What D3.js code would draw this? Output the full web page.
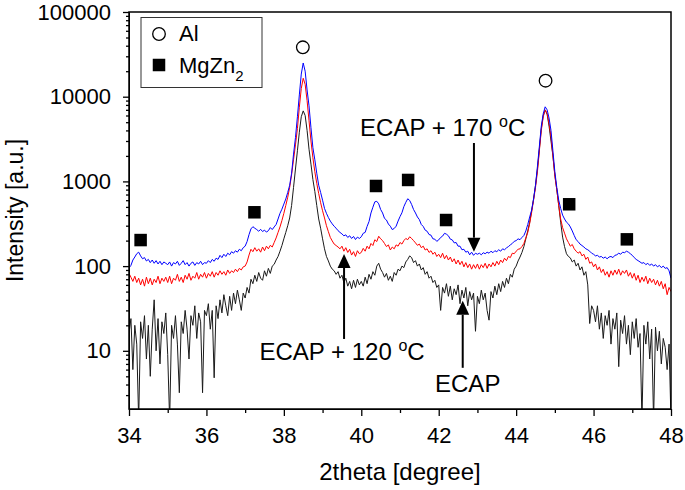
<!DOCTYPE html>
<html>
<head>
<meta charset="utf-8">
<script src="https://cdn.jsdelivr.net/npm/d3@7"></script>
<style>
  body { margin: 0; background: #fff; }
  text { font-family: "Liberation Sans", Arial, sans-serif; fill: #000; }
</style>
</head>
<body>
<script>
// scan grid: 34.00 .. 48.00 deg, 0.05 deg step
var angleStart = 34, angleStep = 0.05;

// ECAP (black)
var ecap = [
  16,24,6,20,12,1.5,22,14,26,8,20,5,18,40,10,24,7,22,16,28,
  9,1.5,20,14,26,12,3.2,22,16,30,18,8,26,20,34,14,28,22,3.2,30,
  26,36,18,30,4.8,34,24,40,28,46,34,26,44,30,48,36,52,40,30,48,
  42,56,48,70,62,78,66,84,72,68,88,76,94,82,100,105,118,130,150,175,
  210,250,300,370,520,850,1400,2300,3800,5800,6800,6000,4000,2400,1600,1050,760,520,360,280,
  210,160,130,115,100,92,88,80,86,72,78,64,72,58,66,54,68,56,70,60,
  66,58,74,62,80,70,86,78,100,108,92,84,74,82,68,76,66,84,78,92,
  88,100,96,112,120,132,126,110,116,100,106,90,96,80,86,72,76,64,68,56,
  60,30,56,48,62,44,58,40,54,46,60,36,52,42,56,34,50,40,48,17,
  44,36,52,40,48,30,23,50,42,58,46,62,50,66,56,72,62,80,74,92,
  100,115,128,145,170,210,260,330,450,620,900,1400,2400,4200,6000,6950,6200,4500,3000,2000,
  1200,800,520,330,220,170,140,130,125,112,118,100,108,90,98,78,86,60,21,34,
  30,22,34,18,28,14,26,20,30,12,24,18,28,6.5,23,16,26,12,20,9,
  22,14,24,11,16,1.5,20,12,22,8,18,1.5,19,10,17,7,14,11,6,12,
  1.5
];

// ECAP + 120 oC (red)
var ecap120 = [
  82,74,66,76,64,72,60,70,58,74,62,72,60,70,64,76,62,72,66,74,
  64,76,62,72,68,80,66,74,64,78,70,82,68,76,72,84,70,80,74,84,
  72,82,76,86,74,84,78,88,80,86,78,90,82,88,84,92,86,94,90,98,
  100,112,135,158,148,165,150,160,146,168,152,172,160,176,168,190,215,250,290,345,
  420,520,650,850,1200,1800,2700,4200,7500,12500,16500,14000,9000,5200,3000,1900,1300,950,720,560,
  450,370,300,255,218,198,182,175,168,160,172,150,165,145,158,135,148,130,152,140,
  145,162,150,172,160,185,175,205,195,225,210,200,185,170,178,155,168,160,178,172,
  190,182,200,212,205,222,212,200,188,176,182,165,172,155,160,145,152,138,146,130,
  138,126,142,122,134,118,128,112,122,106,118,104,114,98,110,96,106,92,104,94,
  106,92,104,96,108,94,106,98,110,100,114,104,118,110,124,116,130,126,142,140,
  150,158,160,170,185,215,250,320,430,600,850,1300,2300,4000,5800,7000,6300,4800,3400,2000,
  1150,800,520,360,285,245,210,190,172,180,160,150,142,148,132,138,120,128,108,112,
  98,106,90,98,84,92,78,86,74,88,78,90,80,92,78,88,82,90,76,84,
  72,82,68,78,64,74,66,76,62,72,64,70,60,68,58,66,54,62,46,56,
  50
];

// ECAP + 170 oC (blue)
var ecap170 = [
  95,102,118,128,140,146,132,122,126,115,120,110,118,108,116,106,114,104,112,108,
  104,112,100,110,106,114,102,108,116,104,110,100,108,112,102,110,106,114,104,110,
  108,116,110,120,114,124,120,134,126,138,130,142,136,148,142,152,146,158,152,165,
  172,195,235,275,292,280,270,258,272,256,266,252,262,285,270,290,310,360,420,470,
  540,620,740,900,1250,2100,3300,5800,10500,18500,25000,20000,12000,7800,4300,2500,1800,1250,900,740,
  600,480,420,375,340,315,295,280,262,250,240,228,234,218,228,212,224,206,220,212,
  222,244,250,294,336,424,496,574,582,544,466,424,366,350,314,296,270,278,296,340,
  384,426,504,566,624,596,534,466,424,380,354,310,294,266,258,236,232,210,208,196,
  204,218,226,244,238,228,208,204,188,190,172,172,156,158,146,150,136,146,134,142,
  138,142,136,144,140,146,142,150,144,152,148,156,150,160,156,164,170,178,185,196,
  200,210,205,218,230,260,310,380,460,620,900,1500,2600,4500,6300,7600,7000,5600,4000,2300,
  1300,850,600,480,400,360,330,315,290,260,230,205,195,182,175,168,160,156,150,142,
  138,132,134,128,130,124,128,122,128,130,126,134,136,142,138,146,144,150,146,140,
  134,126,120,116,112,108,110,104,108,102,106,100,104,98,102,96,100,94,96,88,
  72
];

// phase markers
var alAngles = [38.49, 44.76];
var alLevels = [38300, 15450];
var mgzn2Angles = [34.30, 37.24, 40.38, 41.21, 42.19, 45.37, 46.86];
var mgzn2Levels = [203, 432, 883, 1040, 350, 537, 207];

// tick labels
var xTickValues = [34, 36, 38, 40, 42, 44, 46, 48];
var yTickValues = [10, 100, 1000, 10000, 100000];

var width = 685, height = 490;
var margin = { top: 12, right: 14, bottom: 81, left: 129 };

var svg = d3.select('body')
  .append('svg')
  .attr('width', width)
  .attr('height', height);

var x = d3.scaleLinear().domain([34, 48]).range([margin.left, width - margin.right]);
var y = d3.scaleLog().domain([2.056, 100000]).range([height - margin.bottom, margin.top]);

svg.append('clipPath')
  .attr('id', 'plot-clip')
  .append('rect')
  .attr('x', x.range()[0])
  .attr('y', y.range()[1])
  .attr('width', x.range()[1] - x.range()[0])
  .attr('height', y.range()[0] - y.range()[1]);

// spectra
var line = d3.line()
  .x(function(d, i) { return x(angleStart + i * angleStep); })
  .y(function(d) { return y(d); });

var series = [
  { values: ecap, color: '#1a1a1a' },
  { values: ecap120, color: '#ff0000' },
  { values: ecap170, color: '#0000ff' }
];

svg.append('g')
  .attr('clip-path', 'url(#plot-clip)')
  .selectAll('path')
  .data(series)
  .enter()
  .append('path')
  .attr('d', function(d) { return line(d.values); })
  .attr('fill', 'none')
  .attr('stroke', function(d) { return d.color; })
  .attr('stroke-width', 1)
  .attr('stroke-linejoin', 'round');

// axes
var xMinor = [35, 37, 39, 41, 43, 45, 47];
var yMinor = [];
[1, 10, 100, 1000, 10000].forEach(function(p) {
  for (var m = 2; m <= 9; m++) {
    if (m * p >= y.domain()[0]) yMinor.push(m * p);
  }
});

svg.append('g')
  .attr('transform', 'translate(0,' + y.range()[0] + ')')
  .call(d3.axisBottom(x).tickValues(xTickValues).tickSize(7).tickSizeOuter(0).tickPadding(11).tickFormat(d3.format('d')));
svg.append('g')
  .attr('transform', 'translate(0,' + y.range()[0] + ')')
  .call(d3.axisBottom(x).tickValues(xMinor).tickSize(4).tickSizeOuter(0).tickFormat(''))
  .select('.domain').remove();

svg.append('g')
  .attr('transform', 'translate(' + x.range()[0] + ',0)')
  .call(d3.axisLeft(y).tickValues(yTickValues).tickSize(6).tickSizeOuter(0).tickPadding(12).tickFormat(d3.format('d')));
svg.append('g')
  .attr('transform', 'translate(' + x.range()[0] + ',0)')
  .call(d3.axisLeft(y).tickValues(yMinor).tickSize(3).tickSizeOuter(0).tickFormat(''))
  .select('.domain').remove();

svg.selectAll('.tick text').attr('font-size', 22).attr('font-family', '"Liberation Sans", Arial, sans-serif');
svg.selectAll('.tick line').attr('stroke', '#000').attr('stroke-width', 1.3);

// frame
svg.append('rect')
  .attr('x', x.range()[0])
  .attr('y', y.range()[1])
  .attr('width', x.range()[1] - x.range()[0])
  .attr('height', y.range()[0] - y.range()[1])
  .attr('fill', 'none')
  .attr('stroke', '#000')
  .attr('stroke-width', 1.5);

// axis titles
svg.append('text')
  .attr('x', (x.range()[0] + x.range()[1]) / 2)
  .attr('y', 480)
  .attr('text-anchor', 'middle')
  .attr('font-size', 24)
  .text('2theta [degree]');

svg.append('text')
  .attr('transform', 'translate(23,' + (y.range()[0] + y.range()[1]) / 2 + ') rotate(-90)')
  .attr('text-anchor', 'middle')
  .attr('font-size', 23)
  .text('Intensity [a.u.]');

// phase markers
svg.selectAll('circle.al')
  .data(alAngles)
  .enter()
  .append('circle')
  .attr('class', 'al')
  .attr('cx', function(d) { return x(d); })
  .attr('cy', function(d, i) { return y(alLevels[i]); })
  .attr('r', 6.3)
  .attr('fill', '#fff')
  .attr('stroke', '#000')
  .attr('stroke-width', 1.3);

var sq = 12.5;
svg.selectAll('rect.mgzn2')
  .data(mgzn2Angles)
  .enter()
  .append('rect')
  .attr('class', 'mgzn2')
  .attr('x', function(d) { return x(d) - sq / 2; })
  .attr('y', function(d, i) { return y(mgzn2Levels[i]) - sq / 2; })
  .attr('width', sq)
  .attr('height', sq)
  .attr('fill', '#000');

// annotations
var notes = [
  { label: 'ECAP + 170 ', deg: true, tx: 39.97, ty: 3440, ax: 42.91, from: 2840, to: 148 },
  { label: 'ECAP + 120 ', deg: true, tx: 37.37, ty: 7.8, ax: 39.555, from: 13.8, to: 139 },
  { label: 'ECAP', deg: false, tx: 41.905, ty: 3.3, ax: 42.62, from: 6.3, to: 39 }
];

notes.forEach(function(n) {
  var t = svg.append('text')
    .attr('x', x(n.tx))
    .attr('y', y(n.ty))
    .attr('font-size', 24)
    .text(n.label);
  if (n.deg) {
    t.append('tspan').attr('font-size', 16).attr('dy', -9).text('o');
    t.append('tspan').attr('dy', 9).text('C');
  }

  var ax = x(n.ax), y0 = y(n.from), y1 = y(n.to);
  var dir = y1 > y0 ? 1 : -1;
  var headLen = 14, headHalf = 6.5;
  svg.append('line')
    .attr('x1', ax).attr('y1', y0)
    .attr('x2', ax).attr('y2', y1 - dir * headLen)
    .attr('stroke', '#000')
    .attr('stroke-width', 2);
  svg.append('path')
    .attr('d', 'M' + ax + ',' + y1 + 'L' + (ax - headHalf) + ',' + (y1 - dir * headLen) + 'L' + (ax + headHalf) + ',' + (y1 - dir * headLen) + 'Z')
    .attr('fill', '#000');
});

// legend
var legend = svg.append('g');
legend.append('rect')
  .attr('x', 141).attr('y', 17.5)
  .attr('width', 121).attr('height', 70)
  .attr('fill', '#fff')
  .attr('stroke', '#333')
  .attr('stroke-width', 1);
legend.append('circle')
  .attr('cx', 159).attr('cy', 34).attr('r', 6.3)
  .attr('fill', '#fff').attr('stroke', '#000').attr('stroke-width', 1.3);
legend.append('text')
  .attr('x', 179).attr('y', 41)
  .attr('font-size', 22)
  .text('Al');
legend.append('rect')
  .attr('x', 159 - sq / 2).attr('y', 65 - sq / 2)
  .attr('width', sq).attr('height', sq)
  .attr('fill', '#000');
var mg = legend.append('text')
  .attr('x', 179).attr('y', 72.5)
  .attr('font-size', 22)
  .text('MgZn');
mg.append('tspan').attr('font-size', 15).attr('dy', 8).text('2');
</script>
</body>
</html>
